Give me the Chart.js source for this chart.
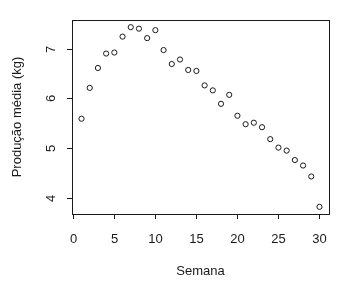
<!DOCTYPE html>
<html>
<head>
<meta charset="utf-8">
<script src="https://cdn.jsdelivr.net/npm/chart.js@4"></script>
<style>
  html, body { margin: 0; padding: 0; background: #fff; }
  #wrap { width: 358px; height: 285px; }
</style>
</head>
<body>
<div id="wrap"><canvas id="chart" width="358" height="285"></canvas></div>
<script>
// semanas e produção média
const semanas = [1, 2, 3, 4, 5, 6, 7, 8, 9, 10, 11, 12, 13, 14, 15,
                 16, 17, 18, 19, 20, 21, 22, 23, 24, 25, 26, 27, 28, 29, 30];
const producao = [5.59, 6.21, 6.61, 6.90, 6.92, 7.24, 7.43, 7.40, 7.21, 7.37,
                  6.97, 6.69, 6.78, 6.57, 6.55, 6.26, 6.16, 5.89, 6.07, 5.65,
                  5.48, 5.51, 5.42, 5.18, 5.01, 4.95, 4.76, 4.65, 4.43, 3.82];
const xTicks = [0, 5, 10, 15, 20, 25, 30];
const yTicks = [4, 5, 6, 7];

const FONT = '13px "Liberation Sans", Arial, sans-serif';
const INK = '#1a1a1a';

// desenha caixa, marcas e rótulos no estilo do R
const rAxes = {
    id: 'rAxes',
    afterDraw(chart) {
        const ctx = chart.ctx;
        const a = chart.chartArea;
        const xs = chart.scales.x, ys = chart.scales.y;
        ctx.save();
        ctx.strokeStyle = INK;
        ctx.fillStyle = INK;
        ctx.lineWidth = 1;
        ctx.strokeRect(Math.round(a.left) + 0.5, Math.round(a.top) + 0.5,
                       Math.round(a.right - a.left), Math.round(a.bottom - a.top));
        ctx.font = FONT;

        // eixo x
        ctx.textAlign = 'center';
        ctx.textBaseline = 'middle';
        xTicks.forEach(t => {
            const px = Math.round(xs.getPixelForValue(t)) + 0.5;
            ctx.beginPath();
            ctx.moveTo(px, a.bottom);
            ctx.lineTo(px, a.bottom + 5);
            ctx.stroke();
            ctx.fillText(String(t), px, a.bottom + 25);
        });
        ctx.fillText('Semana', (a.left + a.right) / 2, a.bottom + 57);

        // eixo y
        yTicks.forEach(t => {
            const py = Math.round(ys.getPixelForValue(t)) + 0.5;
            ctx.beginPath();
            ctx.moveTo(a.left, py);
            ctx.lineTo(a.left - 5, py);
            ctx.stroke();
            ctx.save();
            ctx.translate(a.left - 21, py);
            ctx.rotate(-Math.PI / 2);
            ctx.fillText(String(t), 0, 0);
            ctx.restore();
        });
        ctx.save();
        ctx.translate(17, (a.top + a.bottom) / 2);
        ctx.rotate(-Math.PI / 2);
        ctx.fillText('Produção média (kg)', 0, 0);
        ctx.restore();
        ctx.restore();
    }
};

new Chart(document.getElementById('chart'), {
    type: 'scatter',
    data: {
        datasets: [{
            data: semanas.map((s, i) => ({ x: s, y: producao[i] })),
            pointStyle: 'circle',
            pointRadius: 2.6,
            pointBorderWidth: 1,
            pointBorderColor: INK,
            pointBackgroundColor: 'rgba(0,0,0,0)'
        }]
    },
    options: {
        responsive: false,
        animation: false,
        layout: { padding: { top: 20, right: 29, left: 0, bottom: 0 } },
        plugins: { legend: { display: false }, tooltip: { enabled: false } },
        scales: {
            x: {
                type: 'linear',
                min: -0.16, max: 31.16,
                grid: { display: false, drawTicks: false },
                border: { display: false },
                ticks: { display: false },
                afterFit: s => { s.height = 71; }
            },
            y: {
                type: 'linear',
                min: 3.676, max: 7.574,
                grid: { display: false, drawTicks: false },
                border: { display: false },
                ticks: { display: false },
                afterFit: s => { s.width = 72; }
            }
        }
    },
    plugins: [rAxes]
});
</script>
</body>
</html>
